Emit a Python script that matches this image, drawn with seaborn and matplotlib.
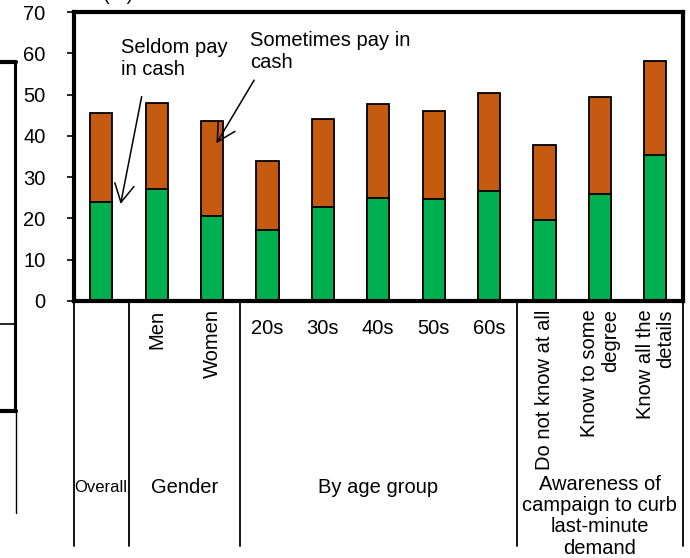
import matplotlib
matplotlib.use("Agg")
import matplotlib.pyplot as plt
import matplotlib.transforms as mtransforms
from matplotlib.lines import Line2D
import seaborn as sns
import pandas as pd

# Share of respondents (%) by how often they pay in cash
categories = ["Overall", "Men", "Women", "20s", "30s", "40s", "50s", "60s",
              "Do not know at all", "Know to some\ndegree", "Know all the\ndetails"]
seldom = [24.0, 27.1, 20.7, 17.2, 22.7, 24.9, 24.6, 26.6, 19.5, 25.8, 35.3]
sometimes = [21.6, 20.8, 22.9, 16.8, 21.5, 22.8, 21.5, 23.8, 18.4, 23.6, 22.8]
group_of = ["Overall", "Gender", "Gender", "By age group", "By age group",
            "By age group", "By age group", "By age group",
            "Awareness of\ncampaign to curb\nlast-minute\ndemand",
            "Awareness of\ncampaign to curb\nlast-minute\ndemand",
            "Awareness of\ncampaign to curb\nlast-minute\ndemand"]
y_ticks = [0, 10, 20, 30, 40, 50, 60, 70]

GREEN = "#00B050"
ORANGE = "#C55A11"

sns.set_style("white")
plt.rcParams["font.family"] = ["Liberation Sans", "DejaVu Sans"]
plt.rcParams["text.color"] = "black"
plt.rcParams["ytick.color"] = "black"
plt.rcParams["xtick.color"] = "black"
FS = 14.5

df = pd.DataFrame({"category": categories, "seldom": seldom, "sometimes": sometimes})
df["total"] = df["seldom"] + df["sometimes"]

fig = plt.figure(figsize=(6.9, 5.58), dpi=100)
ax = fig.add_axes([73.5 / 690, 1 - 301 / 558, (683 - 73.5) / 690, (301 - 12) / 558])

# stacked bars: full height in orange, lower segment in green on top
sns.barplot(data=df, x="category", y="total", color=ORANGE, saturation=1,
            width=0.4, edgecolor="black", linewidth=1.3, ax=ax)
sns.barplot(data=df, x="category", y="seldom", color=GREEN, saturation=1,
            width=0.4, edgecolor="black", linewidth=1.3, ax=ax)

n = len(categories)
ax.set_xlim(-0.5, n - 0.5)
ax.set_ylim(0, 70)
ax.set_yticks(y_ticks)
ax.set_yticklabels([str(t) for t in y_ticks], fontsize=FS, color="black")
ax.tick_params(axis="y", direction="out", length=5, width=1.2, pad=15, left=True)
ax.set_xticks([])
ax.set_xlabel("")
ax.set_ylabel("")
for sp in ax.spines.values():
    sp.set_visible(True)
    sp.set_linewidth(3)
    sp.set_color("black")

trans = mtransforms.blended_transform_factory(ax.transData, ax.transAxes)

# category labels under each bar
for i, (lab, grp) in enumerate(zip(categories, group_of)):
    if grp == "Overall":
        continue
    if grp == "By age group":
        ax.text(i, -0.062, lab, transform=trans, ha="center", va="top", fontsize=FS)
    else:
        ax.text(i, -0.029, lab, transform=trans, ha="center", va="top", fontsize=FS,
                rotation=90, multialignment="right", linespacing=1.1)

# group separators and group titles
groups = []
for i, g in enumerate(group_of):
    if groups and groups[-1][0] == g:
        groups[-1][2] = i
    else:
        groups.append([g, i, i])
bounds = [-0.5] + [end + 0.5 for _, _, end in groups]
for b in bounds:
    ax.add_line(Line2D([b, b], [0, -0.848], transform=trans, color="black",
                       lw=1.3, clip_on=False))
for g, start, end in groups:
    cx = (start + end) / 2
    if g == "Overall":
        ax.text(cx, -0.644, g, transform=trans, ha="center", va="center", fontsize=12)
    elif "\n" in g:
        ax.text(cx, -0.602, g, transform=trans, ha="center", va="top", fontsize=FS,
                linespacing=1.15)
    else:
        ax.text(cx, -0.644, g, transform=trans, ha="center", va="center", fontsize=FS)

# callouts naming the two segments
arrow = dict(arrowstyle="->, head_length=1.3, head_width=0.7", color="black",
             lw=1.1, mutation_scale=10, shrinkA=0, shrinkB=0)
ax.text(0.35, 63.8, "Seldom pay\nin cash", ha="left", va="top", fontsize=FS)
ax.annotate("", xy=(0.35, 23.5), xytext=(0.73, 49.5), arrowprops=arrow)
ax.text(2.68, 65.3, "Sometimes pay in\ncash", ha="left", va="top", fontsize=FS)
ax.annotate("", xy=(2.08, 38.2), xytext=(2.76, 53.5), arrowprops=arrow)

# unit label at the top edge
fig.text(118 / 690, 1 + 0.5 / 558, "(%)", ha="center", va="baseline", fontsize=FS)

# frame of the neighbouring panel on the left edge
def px(x, y):
    return x / 690, 1 - y / 558

for (x0, y0), (x1, y1), lw in [((0, 62), (15.5, 62), 3), ((14.5, 62), (14.5, 411), 2.2),
                               ((0, 324), (14.5, 324), 1.2), ((0, 411), (15.5, 411), 3),
                               ((15.5, 411), (15.5, 513), 1)]:
    a, b = px(x0, y0)
    c, d = px(x1, y1)
    fig.add_artist(Line2D([a, c], [b, d], color="black", lw=lw))

fig.savefig("out.png", dpi=100)
